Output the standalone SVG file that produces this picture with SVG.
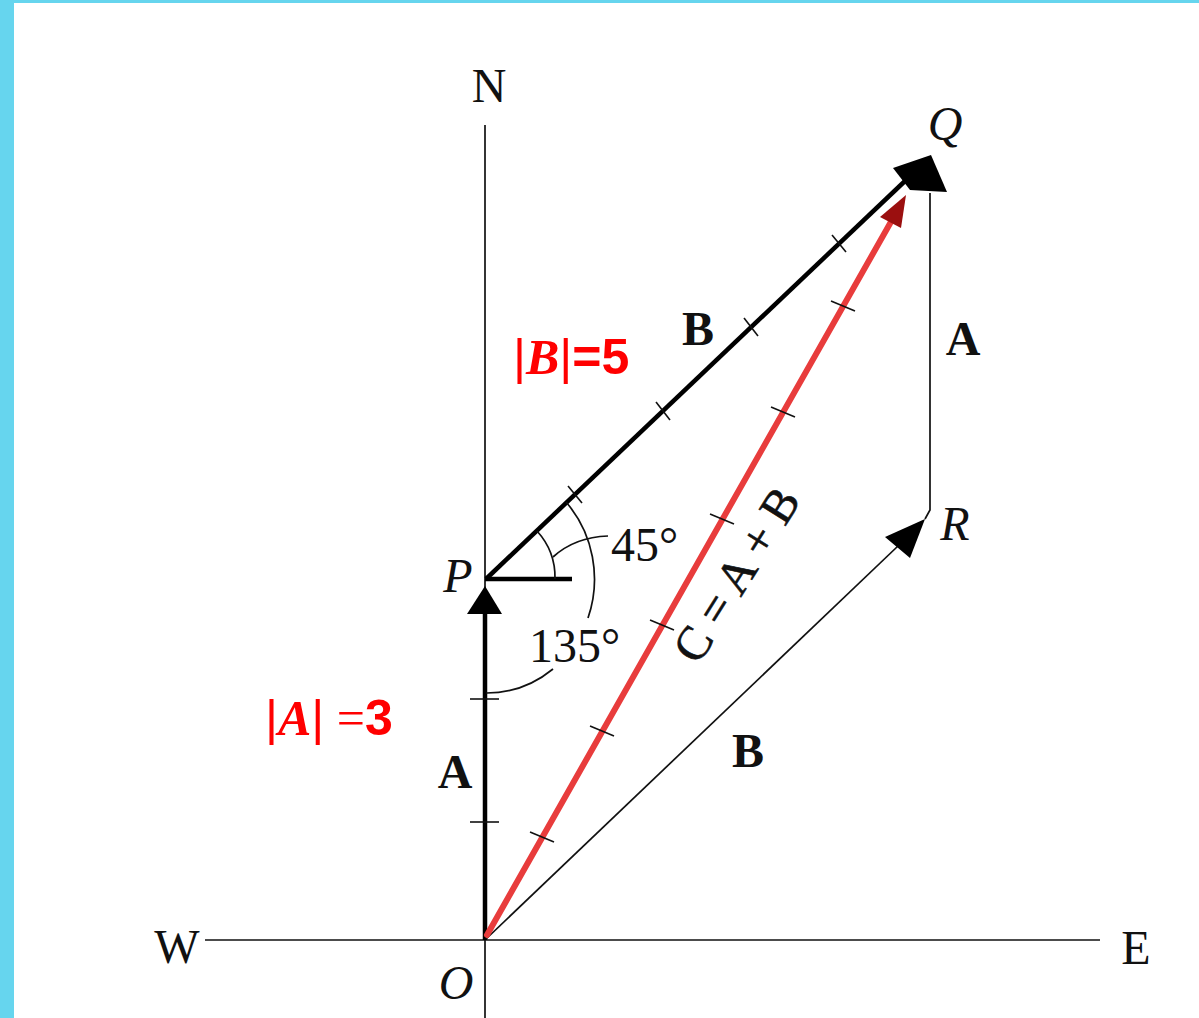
<svg xmlns="http://www.w3.org/2000/svg" width="1199" height="1018" viewBox="0 0 1199 1018">
<style>
.lbl{font-family:"Liberation Serif","Times New Roman",serif;font-size:48px;fill:#111}
.it{font-style:italic}
.bd{font-weight:bold}
.thin{stroke:#111;stroke-width:1.7;fill:none}
.thick{stroke:#000;stroke-width:4.5;fill:none}
.tick{stroke:#111;stroke-width:1.6}
.red{font-size:50px;fill:#f00}
</style>
<rect width="1199" height="1018" fill="#fff"/>
<rect x="0" y="0" width="1199" height="3" fill="#66d5ee"/>
<rect x="0" y="0" width="14" height="1018" fill="#66d5ee"/>

<g id="axes">
  <line x1="485" y1="125" x2="485" y2="1018" class="thin" stroke-width="2"/>
  <line x1="205" y1="940" x2="1100" y2="940" class="thin" stroke-width="2"/>
  <text class="lbl" x="489" y="102" text-anchor="middle">N</text>
  <text class="lbl" x="177" y="963" text-anchor="middle">W</text>
  <text class="lbl" x="1136" y="964" text-anchor="middle">E</text>
</g>

<g id="node-O"><text class="lbl it" x="456" y="999" text-anchor="middle">O</text></g>
<g id="node-P"><text class="lbl it" x="458" y="592" text-anchor="middle">P</text></g>
<g id="node-Q"><text class="lbl it" x="945" y="140" text-anchor="middle">Q</text></g>
<g id="node-R"><text class="lbl it" x="955" y="540" text-anchor="middle">R</text></g>

<g id="connectors">
  <!-- A: O -> P -->
  <line x1="485" y1="940" x2="485" y2="612" class="thick"/>
  <polygon points="485,586 467,614 502,614" fill="#000"/>
  <line x1="470" y1="822" x2="499" y2="822" class="tick"/>
  <line x1="470" y1="699" x2="499" y2="699" class="tick"/>
  <!-- horizontal stub at P -->
  <line x1="485" y1="579" x2="572" y2="579" class="thick"/>
  <!-- B: P -> Q -->
  <line x1="486" y1="579" x2="905" y2="181" class="thick"/>
  <polygon points="893,168 931,155 947,192 910,190" fill="#000"/>
  <g class="tick">
    <line x1="568" y1="486" x2="582" y2="503"/>
    <line x1="656" y1="402" x2="670" y2="420"/>
    <line x1="744" y1="318" x2="758" y2="336"/>
    <line x1="832" y1="235" x2="846" y2="252"/>
  </g>
  <!-- B: O -> R -->
  <line x1="486" y1="939" x2="898" y2="546" class="thin"/>
  <polygon points="925,519 885,537 910,558" fill="#000"/>
  <!-- A: R -> Q -->
  <polyline points="930,193 930,510 925,519" class="thin"/>
  <!-- C: O -> Q -->
  <line x1="487" y1="935" x2="892" y2="220" stroke="#e83c3c" stroke-width="6" stroke-linecap="round"/>
  <polygon points="906,195 880,217 901,228" fill="#9b0f0f"/>
  <g class="tick">
    <line x1="530" y1="832" x2="554" y2="842"/>
    <line x1="590" y1="726" x2="614" y2="736"/>
    <line x1="650" y1="620" x2="674" y2="630"/>
    <line x1="710" y1="514" x2="734" y2="524"/>
    <line x1="771" y1="407" x2="795" y2="417"/>
    <line x1="831" y1="301" x2="855" y2="311"/>
  </g>
</g>

<g id="angles">
  <path d="M555,579 A69 69 0 0 0 537,531" class="thin"/>
  <path d="M566,502 A108 114 0 0 1 588,618" class="thin"/>
  <path d="M553,669 A108 114 0 0 1 486,693" class="thin"/>
  <path d="M553,557 Q575,537 608,536" class="thin"/>
  <text class="lbl" x="611" y="561">45°</text>
  <text class="lbl" x="529" y="662">135°</text>
</g>

<g id="labels">
  <text class="lbl bd" x="698" y="345" text-anchor="middle" font-size="46">B</text>
  <text class="lbl bd" x="748" y="767" text-anchor="middle" font-size="46">B</text>
  <text class="lbl bd" x="963" y="355" text-anchor="middle" font-size="46">A</text>
  <text class="lbl bd" x="455" y="788" text-anchor="middle" font-size="46">A</text>
  <text class="lbl" transform="translate(750,583) rotate(-58)" text-anchor="middle" font-size="47" stroke="#111" stroke-width="0.6">C = A + B</text>
  <text class="red" x="513" y="374"><tspan font-family="Liberation Sans,sans-serif">|</tspan><tspan font-family="Liberation Serif,serif" font-style="italic" font-weight="bold">B</tspan><tspan font-family="Liberation Sans,sans-serif">|</tspan><tspan font-family="Liberation Sans,sans-serif" font-weight="bold">=5</tspan></text>
  <text class="red" x="265" y="735"><tspan font-family="Liberation Sans,sans-serif">|</tspan><tspan font-family="Liberation Serif,serif" font-style="italic" font-weight="bold">A</tspan><tspan font-family="Liberation Sans,sans-serif">|</tspan><tspan font-family="Liberation Serif,serif"> =</tspan><tspan font-family="Liberation Sans,sans-serif" font-weight="bold">3</tspan></text>
</g>
</svg>
